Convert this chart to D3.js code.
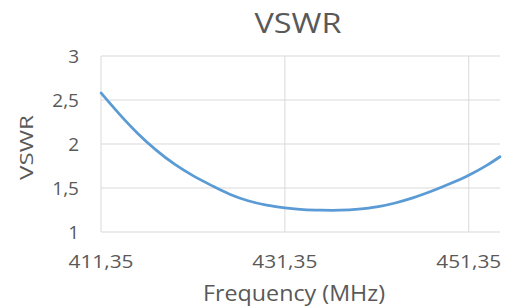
<!DOCTYPE html>
<html>
<head>
<meta charset="utf-8">
<script src="https://cdn.jsdelivr.net/npm/d3@7"></script>
<style>
  body { margin: 0; background: #fff; }
  text { font-family: "Open Sans", sans-serif; fill: #595959; }
</style>
</head>
<body>
<svg id="chart" width="505" height="307"></svg>
<script>
var freqs = [411.35, 413.35, 415.35, 417.35, 419.35, 421.35, 423.35, 425.35, 427.35, 429.35,
             431.35, 433.35, 435.35, 437.35, 439.35, 441.35, 443.35, 445.35, 447.35, 449.35,
             451.35, 453.35, 454.75];
var vswr = [2.58, 2.34, 2.12, 1.93, 1.77, 1.64, 1.53, 1.43, 1.355, 1.305,
            1.275, 1.255, 1.248, 1.248, 1.26, 1.285, 1.33, 1.39, 1.465, 1.55,
            1.645, 1.76, 1.855];
var xTicks = [411.35, 431.35, 451.35];
var yTicks = [1, 1.5, 2, 2.5, 3];

var svg = d3.select("#chart");
var plotLeft = 101, plotRight = 500, plotTop = 56, plotBottom = 232;

var x = d3.scaleLinear().domain([411.35, 454.75]).range([plotLeft, plotRight]);
var y = d3.scaleLinear().domain([1, 3]).range([plotBottom, plotTop]);

var comma = function(v) { return String(v).replace(".", ","); };

// horizontal gridlines
svg.append("g")
    .selectAll("line")
    .data(yTicks)
    .join("line")
    .attr("x1", plotLeft)
    .attr("x2", plotRight)
    .attr("y1", d => y(d))
    .attr("y2", d => y(d))
    .attr("stroke", "#d9d9d9")
    .attr("stroke-width", 1);

// vertical gridlines
svg.append("g")
    .selectAll("line")
    .data(xTicks)
    .join("line")
    .attr("x1", d => x(d))
    .attr("x2", d => x(d))
    .attr("y1", plotTop)
    .attr("y2", plotBottom)
    .attr("stroke", "#d9d9d9")
    .attr("stroke-width", 1);

// y tick labels
svg.append("g")
    .selectAll("text")
    .data(yTicks)
    .join("text")
    .attr("x", 79)
    .attr("y", d => y(d))
    .attr("dy", "0.35em")
    .attr("text-anchor", "end")
    .style("font-size", "19px")
    .text(d => comma(d));

// x tick labels
svg.append("g")
    .selectAll("text")
    .data(xTicks)
    .join("text")
    .attr("x", d => x(d))
    .attr("y", 268)
    .attr("text-anchor", "middle")
    .attr("textLength", 65)
    .attr("lengthAdjust", "spacingAndGlyphs")
    .style("font-size", "19px")
    .text(d => comma(d));

// the VSWR curve
var line = d3.line()
    .x((d, i) => x(freqs[i]))
    .y(d => y(d))
    .curve(d3.curveCatmullRom);

svg.append("path")
    .datum(vswr)
    .attr("d", line)
    .attr("fill", "none")
    .attr("stroke", "#5b9bd5")
    .attr("stroke-width", 2.75)
    .attr("stroke-linecap", "round");

// titles
svg.append("text")
    .attr("x", 298)
    .attr("y", 33)
    .attr("text-anchor", "middle")
    .attr("textLength", 87)
    .attr("lengthAdjust", "spacingAndGlyphs")
    .style("font-size", "28px")
    .text("VSWR");

svg.append("text")
    .attr("x", 294)
    .attr("y", 301)
    .attr("text-anchor", "middle")
    .attr("textLength", 182)
    .attr("lengthAdjust", "spacingAndGlyphs")
    .style("font-size", "22px")
    .text("Frequency (MHz)");

svg.append("text")
    .attr("transform", "translate(33,147.5) rotate(-90)")
    .attr("text-anchor", "middle")
    .attr("textLength", 65)
    .attr("lengthAdjust", "spacingAndGlyphs")
    .style("font-size", "19px")
    .text("VSWR");
</script>
</body>
</html>
